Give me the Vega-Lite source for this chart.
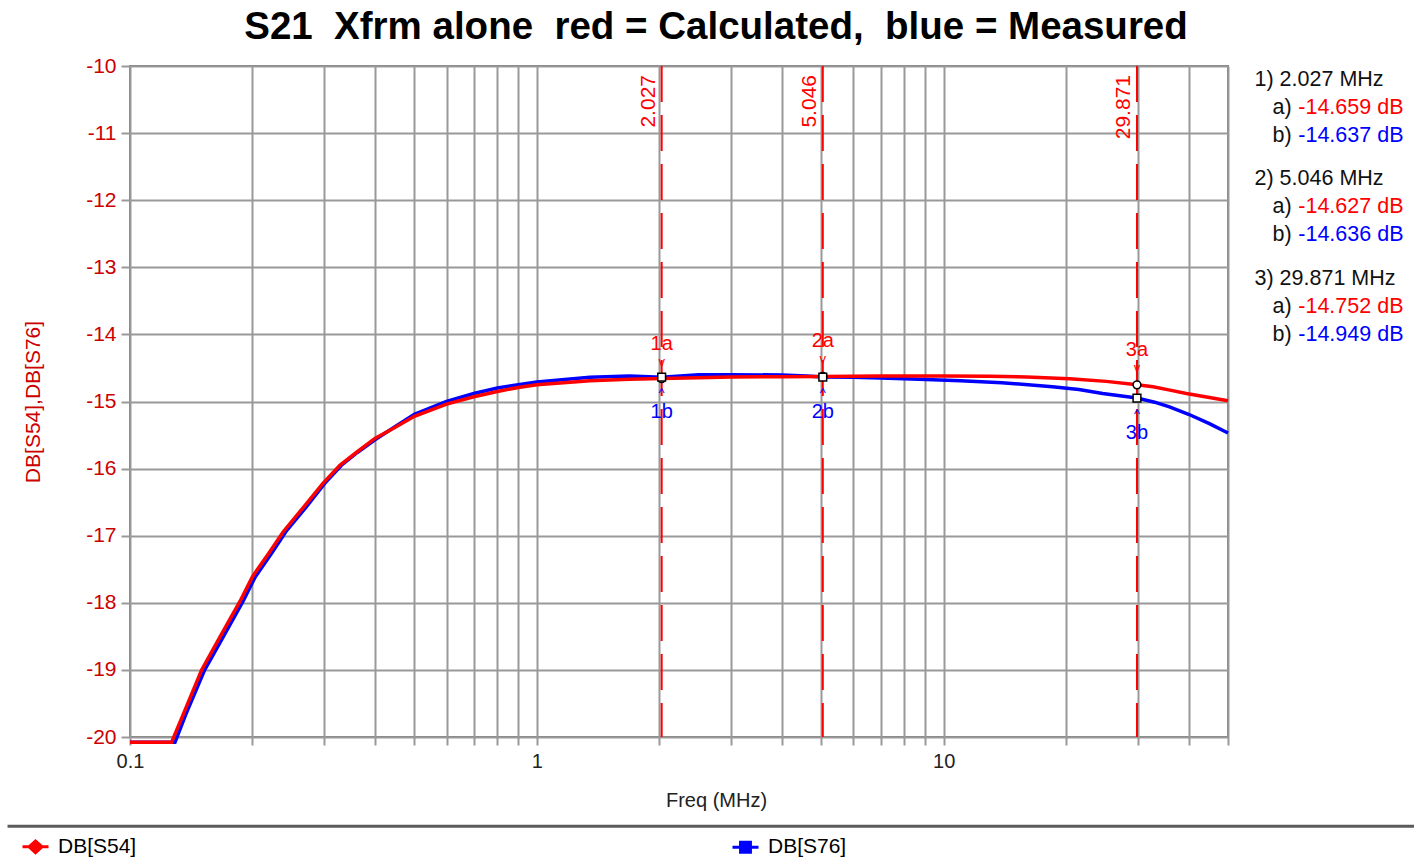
{
  "$schema": "https://vega.github.io/schema/vega-lite/v6.json",
  "width": 1098,
  "height": 671,
  "autosize": "none",
  "padding": {"left": 130, "top": 66, "right": 186, "bottom": 124},
  "background": "white",
  "config": {"font": "Liberation Sans", "view": {"stroke": "#808080", "strokeWidth": 2}},
  "title": {"text": "S21\u00a0\u00a0Xfrm alone\u00a0\u00a0red = Calculated,\u00a0\u00a0blue = Measured", "fontSize": 38.5, "fontWeight": "bold", "color": "#000000", "anchor": "middle", "frame": "group", "dx": 37, "offset": 8},
  "datasets": {
    "curves": [
      {"f": 0.1, "db": -20.08, "s": "DB[S54]"},
      {"f": 0.1265, "db": -20.08, "s": "DB[S54]"},
      {"f": 0.135, "db": -19.67, "s": "DB[S54]"},
      {"f": 0.15, "db": -19.0, "s": "DB[S54]"},
      {"f": 0.165, "db": -18.55, "s": "DB[S54]"},
      {"f": 0.1863, "db": -17.98, "s": "DB[S54]"},
      {"f": 0.2, "db": -17.61, "s": "DB[S54]"},
      {"f": 0.22, "db": -17.25, "s": "DB[S54]"},
      {"f": 0.2381, "db": -16.94, "s": "DB[S54]"},
      {"f": 0.27, "db": -16.54, "s": "DB[S54]"},
      {"f": 0.298, "db": -16.22, "s": "DB[S54]"},
      {"f": 0.328, "db": -15.95, "s": "DB[S54]"},
      {"f": 0.36, "db": -15.76, "s": "DB[S54]"},
      {"f": 0.4, "db": -15.55, "s": "DB[S54]"},
      {"f": 0.45, "db": -15.38, "s": "DB[S54]"},
      {"f": 0.5, "db": -15.22, "s": "DB[S54]"},
      {"f": 0.6, "db": -15.04, "s": "DB[S54]"},
      {"f": 0.7, "db": -14.93, "s": "DB[S54]"},
      {"f": 0.8, "db": -14.85, "s": "DB[S54]"},
      {"f": 0.9, "db": -14.79, "s": "DB[S54]"},
      {"f": 1.0, "db": -14.75, "s": "DB[S54]"},
      {"f": 1.35, "db": -14.69, "s": "DB[S54]"},
      {"f": 1.69, "db": -14.67, "s": "DB[S54]"},
      {"f": 2.027, "db": -14.659, "s": "DB[S54]"},
      {"f": 2.5, "db": -14.645, "s": "DB[S54]"},
      {"f": 3.0, "db": -14.635, "s": "DB[S54]"},
      {"f": 4.0, "db": -14.63, "s": "DB[S54]"},
      {"f": 5.046, "db": -14.627, "s": "DB[S54]"},
      {"f": 7.0, "db": -14.62, "s": "DB[S54]"},
      {"f": 10.0, "db": -14.62, "s": "DB[S54]"},
      {"f": 13.0, "db": -14.625, "s": "DB[S54]"},
      {"f": 16.0, "db": -14.635, "s": "DB[S54]"},
      {"f": 20.4, "db": -14.66, "s": "DB[S54]"},
      {"f": 25.1, "db": -14.7, "s": "DB[S54]"},
      {"f": 29.871, "db": -14.752, "s": "DB[S54]"},
      {"f": 32.7, "db": -14.78, "s": "DB[S54]"},
      {"f": 36.0, "db": -14.83, "s": "DB[S54]"},
      {"f": 39.5, "db": -14.88, "s": "DB[S54]"},
      {"f": 45.0, "db": -14.94, "s": "DB[S54]"},
      {"f": 50.0, "db": -14.99, "s": "DB[S54]"},
      {"f": 0.1, "db": -20.08, "s": "DB[S76]"},
      {"f": 0.129, "db": -20.08, "s": "DB[S76]"},
      {"f": 0.137, "db": -19.67, "s": "DB[S76]"},
      {"f": 0.1526, "db": -19.0, "s": "DB[S76]"},
      {"f": 0.168, "db": -18.55, "s": "DB[S76]"},
      {"f": 0.1895, "db": -17.98, "s": "DB[S76]"},
      {"f": 0.2033, "db": -17.61, "s": "DB[S76]"},
      {"f": 0.2235, "db": -17.25, "s": "DB[S76]"},
      {"f": 0.2415, "db": -16.94, "s": "DB[S76]"},
      {"f": 0.273, "db": -16.55, "s": "DB[S76]"},
      {"f": 0.301, "db": -16.22, "s": "DB[S76]"},
      {"f": 0.331, "db": -15.95, "s": "DB[S76]"},
      {"f": 0.362, "db": -15.76, "s": "DB[S76]"},
      {"f": 0.4, "db": -15.57, "s": "DB[S76]"},
      {"f": 0.45, "db": -15.37, "s": "DB[S76]"},
      {"f": 0.5, "db": -15.19, "s": "DB[S76]"},
      {"f": 0.6, "db": -15.0, "s": "DB[S76]"},
      {"f": 0.7, "db": -14.88, "s": "DB[S76]"},
      {"f": 0.8, "db": -14.8, "s": "DB[S76]"},
      {"f": 0.9, "db": -14.75, "s": "DB[S76]"},
      {"f": 1.0, "db": -14.71, "s": "DB[S76]"},
      {"f": 1.35, "db": -14.64, "s": "DB[S76]"},
      {"f": 1.69, "db": -14.62, "s": "DB[S76]"},
      {"f": 2.027, "db": -14.637, "s": "DB[S76]"},
      {"f": 2.5, "db": -14.6, "s": "DB[S76]"},
      {"f": 3.0, "db": -14.6, "s": "DB[S76]"},
      {"f": 4.0, "db": -14.605, "s": "DB[S76]"},
      {"f": 4.6, "db": -14.62, "s": "DB[S76]"},
      {"f": 5.046, "db": -14.636, "s": "DB[S76]"},
      {"f": 6.0, "db": -14.64, "s": "DB[S76]"},
      {"f": 7.0, "db": -14.65, "s": "DB[S76]"},
      {"f": 8.7, "db": -14.67, "s": "DB[S76]"},
      {"f": 11.0, "db": -14.69, "s": "DB[S76]"},
      {"f": 13.9, "db": -14.72, "s": "DB[S76]"},
      {"f": 18.5, "db": -14.78, "s": "DB[S76]"},
      {"f": 21.5, "db": -14.82, "s": "DB[S76]"},
      {"f": 24.6, "db": -14.88, "s": "DB[S76]"},
      {"f": 29.871, "db": -14.949, "s": "DB[S76]"},
      {"f": 33.0, "db": -15.01, "s": "DB[S76]"},
      {"f": 35.9, "db": -15.08, "s": "DB[S76]"},
      {"f": 40.0, "db": -15.19, "s": "DB[S76]"},
      {"f": 45.0, "db": -15.33, "s": "DB[S76]"},
      {"f": 50.0, "db": -15.47, "s": "DB[S76]"}
    ],
    "markers": [
      {"m": 1, "f": 2.027, "a": -14.659, "b": -14.637},
      {"m": 2, "f": 5.046, "a": -14.627, "b": -14.636},
      {"m": 3, "f": 29.871, "a": -14.752, "b": -14.949}
    ]
  },
  "layer": [
    {
      "layer": [
        {
          "data": {"name": "curves"},
          "transform": [{"filter": "datum.s === 'DB[S76]'"}],
          "mark": {"type": "line", "strokeWidth": 3.5},
          "encoding": {
            "x": {"field": "f", "type": "quantitative", "scale": {"type": "log", "domain": [0.1, 50], "nice": false},
              "axis": {"values": [0.1,0.2,0.3,0.4,0.5,0.6,0.7,0.8,0.9,1,2,3,4,5,6,7,8,9,10,20,30,40,50],
                "labelExpr": "datum.value == 0.1 ? '0.1' : datum.value == 1 ? '1' : datum.value == 10 ? '10' : ''",
                "grid": true, "gridColor": "#999999", "gridWidth": 2, "domain": false,
                "tickColor": "#999999", "tickSize": 8, "tickWidth": 2,
                "labelFontSize": 20, "labelColor": "#222222", "labelPadding": 6, "labelFlush": false, "labelOverlap": false, "labelBound": false,
                "title": "Freq (MHz)", "titleFontSize": 20, "titleFontWeight": "normal", "titleColor": "#222222",
                "titleX": 586, "titleY": 63, "titleBaseline": "middle"}},
            "y": {"field": "db", "type": "quantitative", "scale": {"domain": [-20, -10], "nice": false, "zero": false},
              "axis": {"values": [-20,-19,-18,-17,-16,-15,-14,-13,-12,-11,-10],
                "labelExpr": "'' + datum.value",
                "grid": true, "gridColor": "#999999", "gridWidth": 2, "domain": false,
                "tickColor": "#999999", "tickSize": 9, "tickWidth": 2,
                "labelFontSize": 21, "labelColor": "#cc0000", "labelPadding": 5,
                "title": "DB[S54],DB[S76]", "titleFontSize": 21, "titleFontWeight": "normal", "titleColor": "#cc0000",
                "titleX": -97, "titleBaseline": "middle"}},
            "color": {"field": "s", "type": "nominal", "scale": {"domain": ["DB[S54]", "DB[S76]"], "range": ["#ff0000", "#0000ff"]},
              "legend": {"orient": "none", "legendX": -109, "legendY": 766, "direction": "horizontal", "columns": 2, "columnPadding": 589,
                "title": null, "padding": 0, "labelFontSize": 21, "labelColor": "#000000", "labelOffset": 8,
                "symbolSize": 676, "symbolStrokeWidth": 3,
                "encode": {"symbols": {"update": {
                  "shape": {"signal": "datum.value === 'DB[S54]' ? 'M-1,0H1M-0.5,0L0,-0.45L0.5,0L0,0.45Z' : 'M-1,0H1M-0.38,-0.38H0.38V0.38H-0.38Z'"},
                  "fill": {"scale": "color", "field": "value"},
                  "stroke": {"scale": "color", "field": "value"},
                  "opacity": {"value": 1}}}}}}
          }
        },
        {
          "data": {"name": "curves"},
          "transform": [{"filter": "datum.s === 'DB[S54]'"}],
          "mark": {"type": "line", "strokeWidth": 3.5},
          "encoding": {
            "x": {"field": "f", "type": "quantitative"},
            "y": {"field": "db", "type": "quantitative"},
            "color": {"field": "s", "type": "nominal"}
          }
        },
        {
          "data": {"name": "markers"},
          "mark": {"type": "rule", "color": "#ff0000", "strokeWidth": 2, "strokeDash": [36, 13]},
          "encoding": {"x": {"field": "f", "type": "quantitative"}}
        },
        {
          "data": {"name": "markers"},
          "mark": {"type": "text", "angle": 270, "align": "right", "baseline": "bottom", "dx": -9, "dy": -3, "color": "#ff0000", "fontSize": 21},
          "encoding": {
            "x": {"field": "f", "type": "quantitative"},
            "y": {"datum": -10},
            "text": {"field": "f", "type": "quantitative", "format": ".3f"}
          }
        },
        {
          "data": {"name": "markers"},
          "mark": {"type": "point", "shape": "circle", "filled": true, "fill": "white", "stroke": "black", "strokeWidth": 1.5, "size": 60, "opacity": 1},
          "encoding": {"x": {"field": "f", "type": "quantitative"}, "y": {"field": "a", "type": "quantitative"}}
        },
        {
          "data": {"name": "markers"},
          "mark": {"type": "point", "shape": "square", "filled": true, "fill": "white", "stroke": "black", "strokeWidth": 1.5, "size": 60, "opacity": 1},
          "encoding": {"x": {"field": "f", "type": "quantitative"}, "y": {"field": "b", "type": "quantitative"}}
        },
        {
          "data": {"name": "markers"},
          "transform": [{"calculate": "datum.m + 'a'", "as": "la"}],
          "mark": {"type": "text", "dy": -35, "baseline": "middle", "color": "#ff0000", "fontSize": 20},
          "encoding": {"x": {"field": "f", "type": "quantitative"}, "y": {"field": "a", "type": "quantitative"}, "text": {"field": "la"}}
        },
        {
          "data": {"name": "markers"},
          "mark": {"type": "text", "dy": -17, "baseline": "middle", "color": "#ff0000", "fontSize": 13, "text": "v"},
          "encoding": {"x": {"field": "f", "type": "quantitative"}, "y": {"field": "a", "type": "quantitative"}}
        },
        {
          "data": {"name": "markers"},
          "mark": {"type": "text", "dy": 16, "baseline": "middle", "color": "#0000ff", "fontSize": 13, "text": "^"},
          "encoding": {"x": {"field": "f", "type": "quantitative"}, "y": {"field": "b", "type": "quantitative"}}
        },
        {
          "data": {"name": "markers"},
          "transform": [{"calculate": "datum.m + 'b'", "as": "lb"}],
          "mark": {"type": "text", "dy": 35, "baseline": "middle", "color": "#0000ff", "fontSize": 20},
          "encoding": {"x": {"field": "f", "type": "quantitative"}, "y": {"field": "b", "type": "quantitative"}, "text": {"field": "lb"}}
        },
        {
          "data": {"values": [{}]},
          "mark": {"type": "rule", "color": "#5a5a5a", "strokeWidth": 3},
          "encoding": {"x": {"datum": 0.05}, "x2": {"datum": 200}, "y": {"datum": -21.33}}
        }
      ]
    },
    {
      "data": {"name": "markers"},
      "transform": [
        {"calculate": "(datum.m - 1) * 3.55", "as": "k"},
        {"calculate": "datum.k + 1", "as": "ka"},
        {"calculate": "datum.k + 2", "as": "kb"},
        {"calculate": "datum.m + ') ' + datum.f + ' MHz'", "as": "hdr"},
        {"calculate": "datum.a + ' dB'", "as": "ta"},
        {"calculate": "datum.b + ' dB'", "as": "tb"}
      ],
      "layer": [
        {
          "mark": {"type": "text", "align": "left", "baseline": "middle", "fontSize": 21.5, "color": "#111111"},
          "encoding": {
            "x": {"datum": 58.1, "type": "quantitative", "scale": {"type": "log", "domain": [0.1, 50], "nice": false}},
            "y": {"field": "k", "type": "quantitative", "scale": {"domain": [-0.5, 23.464], "reverse": true, "nice": false, "zero": false}, "axis": null},
            "text": {"field": "hdr"}
          }
        },
        {
          "mark": {"type": "text", "align": "left", "baseline": "middle", "fontSize": 21.5, "color": "#111111", "text": "a)"},
          "encoding": {
            "x": {"datum": 64.3, "type": "quantitative"},
            "y": {"field": "ka", "type": "quantitative"}
          }
        },
        {
          "mark": {"type": "text", "align": "left", "baseline": "middle", "fontSize": 21.5, "color": "#111111", "text": "b)"},
          "encoding": {
            "x": {"datum": 64.3, "type": "quantitative"},
            "y": {"field": "kb", "type": "quantitative"}
          }
        },
        {
          "mark": {"type": "text", "align": "right", "baseline": "middle", "fontSize": 21.5, "color": "#ff0000"},
          "encoding": {
            "x": {"datum": 135, "type": "quantitative"},
            "y": {"field": "ka", "type": "quantitative"},
            "text": {"field": "ta"}
          }
        },
        {
          "mark": {"type": "text", "align": "right", "baseline": "middle", "fontSize": 21.5, "color": "#0000ff"},
          "encoding": {
            "x": {"datum": 135, "type": "quantitative"},
            "y": {"field": "kb", "type": "quantitative"},
            "text": {"field": "tb"}
          }
        }
      ]
    }
  ],
  "resolve": {"scale": {"y": "independent"}}
}
